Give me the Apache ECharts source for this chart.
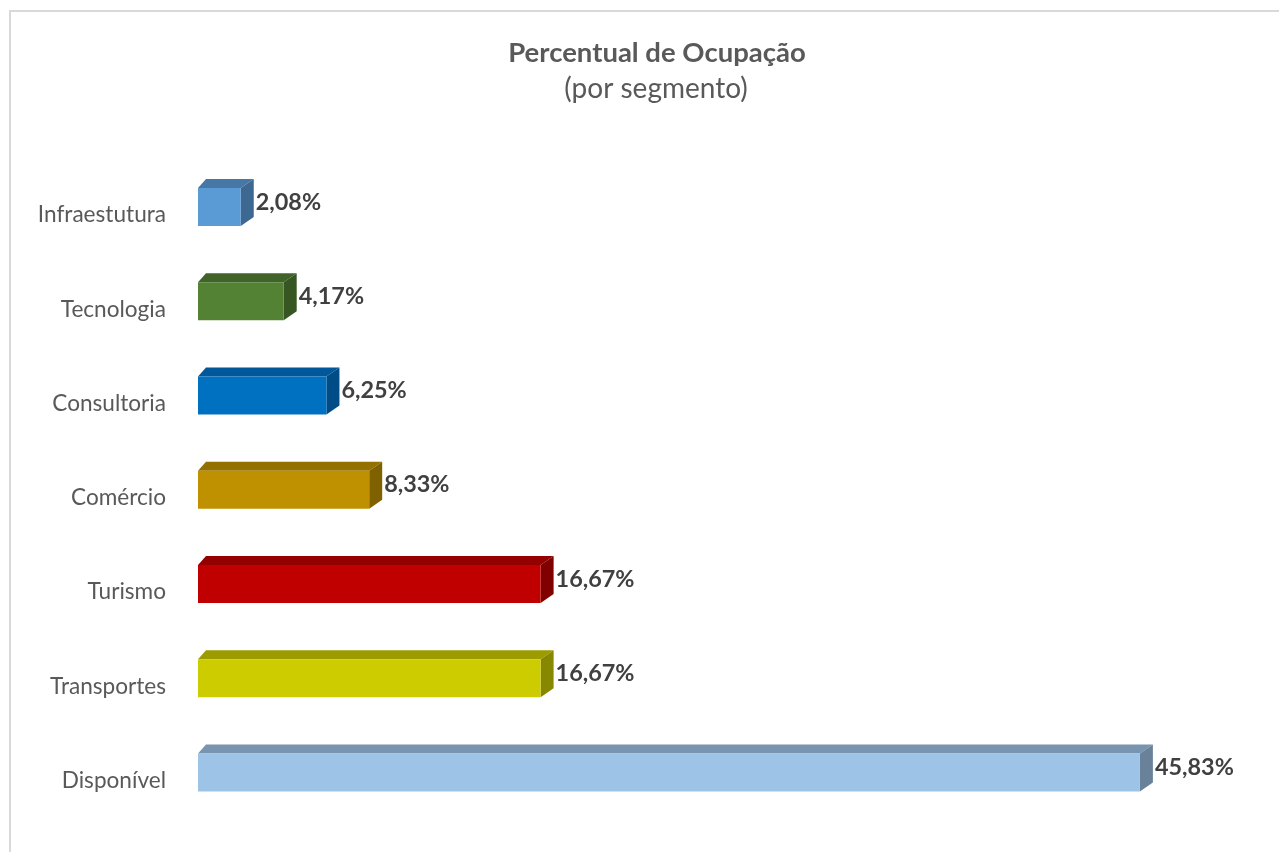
<!DOCTYPE html>
<html>
<head>
<meta charset="utf-8">
<script src="https://cdn.jsdelivr.net/npm/echarts@6/dist/echarts.min.js"></script>
<style>html,body{margin:0;padding:0;background:#fff;}#c{width:1279px;height:852px;}</style>
</head>
<body>
<div id="c"></div>
<script>
const categories = ['Infraestutura', 'Tecnologia', 'Consultoria', 'Comércio', 'Turismo', 'Transportes', 'Disponível'];
const values = [2.08, 4.17, 6.25, 8.33, 16.67, 16.67, 45.83];
const frontColors = ['#5B9BD5', '#548235', '#0070C0', '#BF9000', '#C00000', '#CCCC00', '#9DC3E6'];
const topColors   = ['#4677A5', '#3F6328', '#00579A', '#937000', '#940000', '#9C9C00', '#7994AF'];
const sideColors  = ['#3D6891', '#375722', '#004C86', '#806100', '#800000', '#888800', '#6A8299'];

const FONT = 'Lato';
const chart = echarts.init(document.getElementById('c'));
const data = values.map((v, i) => [i, v]);

function renderItem(params, api) {
  const i = api.value(0);
  const v = api.value(1);
  const p0 = api.coord([0, i]);
  const p1 = api.coord([v, i]);
  const cy = p0[1];
  const h = 38, dxL = 8, dxR = 13, dy = 9;
  const x0 = p0[0], x1 = p1[0];
  const y0 = cy - h / 2, y1 = cy + h / 2;
  const label = v.toFixed(2).replace('.', ',') + '%';
  return {
    type: 'group',
    children: [
      { type: 'polygon', shape: { points: [[x0, y0], [x1, y0], [x1 + dxR, y0 - dy], [x0 + dxL, y0 - dy]] },
        style: { fill: topColors[i] } },
      { type: 'polygon', shape: { points: [[x1, y0], [x1 + dxR, y0 - dy], [x1 + dxR, y1 - dy], [x1, y1]] },
        style: { fill: sideColors[i] } },
      { type: 'rect', shape: { x: x0, y: y0, width: x1 - x0, height: h },
        style: { fill: frontColors[i] } },
      { type: 'text', x: x1 + dxR + 2, y: cy - 5,
        style: { text: label, fill: '#404040', font: 'bold 23.4px ' + FONT, textVerticalAlign: 'middle', textAlign: 'left' } }
    ]
  };
}

chart.setOption({
  backgroundColor: '#fff',
  animation: false,
  title: [
    { text: 'Percentual de Ocupação', left: 652, top: 34, textAlign: 'center',
      textStyle: { fontFamily: FONT, fontSize: 27.5, fontWeight: 'bold', color: '#595959' } },
    { text: '(por segmento)', left: 651, top: 70, textAlign: 'center',
      textStyle: { fontFamily: FONT, fontSize: 28, fontWeight: 'normal', color: '#595959' } }
  ],
  graphic: [
    { type: 'rect', shape: { x: 10, y: 11, width: 1300, height: 900 }, style: { fill: 'none', stroke: '#D9D9D9', lineWidth: 2 }, silent: true }
  ],
  grid: { left: 198, right: 53.4, top: 159.9, bottom: 32.4 },
  xAxis: { type: 'value', min: 0, max: 50, show: false },
  yAxis: {
    type: 'category', data: categories, inverse: true,
    axisLine: { show: false }, axisTick: { show: false },
    axisLabel: { margin: 32, color: '#595959', fontFamily: FONT, fontSize: 22.6, verticalAlign: 'top', lineHeight: 16 }
  },
  series: [{
    type: 'custom', renderItem: renderItem, data: data,
    encode: { y: 0, x: 1 }
  }]
});
</script>
</body>
</html>
